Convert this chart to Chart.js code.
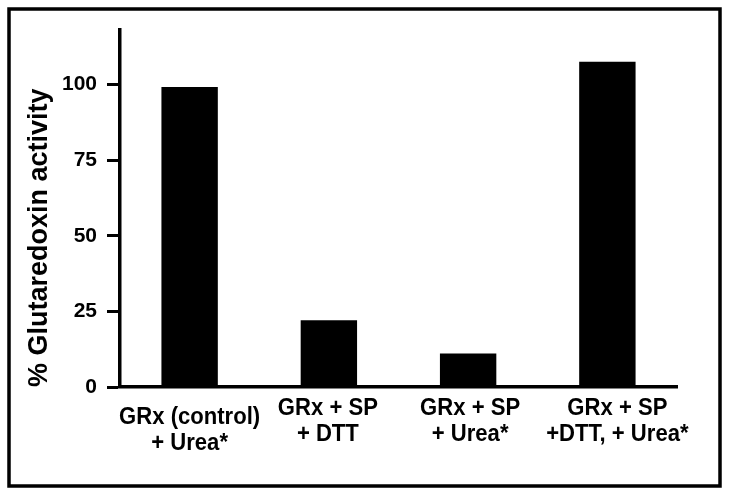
<!DOCTYPE html>
<html>
<head>
<meta charset="utf-8">
<script src="https://cdn.jsdelivr.net/npm/chart.js@4/dist/chart.umd.min.js"></script>
<style>
  html, body { margin: 0; padding: 0; background: #fff; }
  canvas { display: block; }
</style>
</head>
<body>
<canvas id="c" width="729" height="495"></canvas>
<script>
// ---- data ----
const categories = [
  ["GRx (control)", "+ Urea*"],
  ["GRx + SP", "+ DTT"],
  ["GRx + SP", "+ Urea*"],
  ["GRx + SP", "+DTT, + Urea*"]
];
const activityValues = [99.2, 22.1, 11.1, 107.5];
const yTickValues = [0, 25, 50, 75, 100];
const yAxisTitle = "% Glutaredoxin activity";

// ---- style helpers ----
const FONT = "'Liberation Sans', Arial, Helvetica, sans-serif";
const labelStyle = {
  dx: [0, -1, 2, 10],
  line1Y: [417, 408, 408, 408],
  lineGap: 26
};

const framePlugin = {
  id: 'frame',
  beforeDraw(chart) {
    const ctx = chart.ctx;
    ctx.save();
    ctx.fillStyle = '#fff';
    ctx.fillRect(0, 0, chart.width, chart.height);
    ctx.strokeStyle = '#000';
    ctx.lineWidth = 3.5;
    ctx.strokeRect(9, 9, 711, 477);
    ctx.restore();
  }
};

const xLabelPlugin = {
  id: 'xLabels',
  afterDraw(chart) {
    const ctx = chart.ctx;
    const xs = chart.scales.x;
    ctx.save();
    ctx.fillStyle = '#000';
    ctx.font = "bold 23px " + FONT;
    ctx.textAlign = 'center';
    ctx.textBaseline = 'middle';
    categories.forEach((lines, i) => {
      const x = xs.getPixelForValue(i) + labelStyle.dx[i];
      lines.forEach((t, j) => {
        ctx.save();
        ctx.translate(x, labelStyle.line1Y[i] + j * labelStyle.lineGap);
        ctx.scale(0.96, 1.08);
        ctx.fillText(t, 0, 0);
        ctx.restore();
      });
    });
    ctx.restore();
  }
};

new Chart(document.getElementById('c'), {
  type: 'bar',
  data: {
    labels: categories.map(l => l.join(' ')),
    datasets: [{
      data: activityValues,
      backgroundColor: '#000',
      borderWidth: 0,
      barPercentage: 0.405,
      categoryPercentage: 1.0
    }]
  },
  options: {
    responsive: false,
    animation: false,
    devicePixelRatio: 1,
    layout: { padding: { top: 30, right: 52, bottom: 0, left: 0 } },
    plugins: {
      legend: { display: false },
      tooltip: { enabled: false }
    },
    scales: {
      x: {
        grid: { display: false, drawTicks: false },
        ticks: { display: false },
        border: { display: true, color: '#000', width: 3.5 },
        afterFit(scale) { scale.height = 108; }
      },
      y: {
        min: 0,
        max: 118,
        afterBuildTicks(scale) { scale.ticks = yTickValues.map(v => ({ value: v })); },
        ticks: {
          color: '#000',
          font: { family: FONT, size: 21, weight: 'bold' },
          padding: 10
        },
        grid: {
          display: true,
          drawOnChartArea: false,
          drawTicks: true,
          tickLength: 13,
          tickWidth: 3,
          tickColor: '#000'
        },
        border: { display: true, color: '#000', width: 3.5 },
        title: {
          display: true,
          text: yAxisTitle,
          align: 'start',
          color: '#000',
          font: { family: FONT, size: 27, weight: 'bold' },
          padding: { top: 23, bottom: 0 }
        },
        afterFit(scale) { scale.width = 120; }
      }
    }
  },
  plugins: [framePlugin, xLabelPlugin]
});
</script>
</body>
</html>
